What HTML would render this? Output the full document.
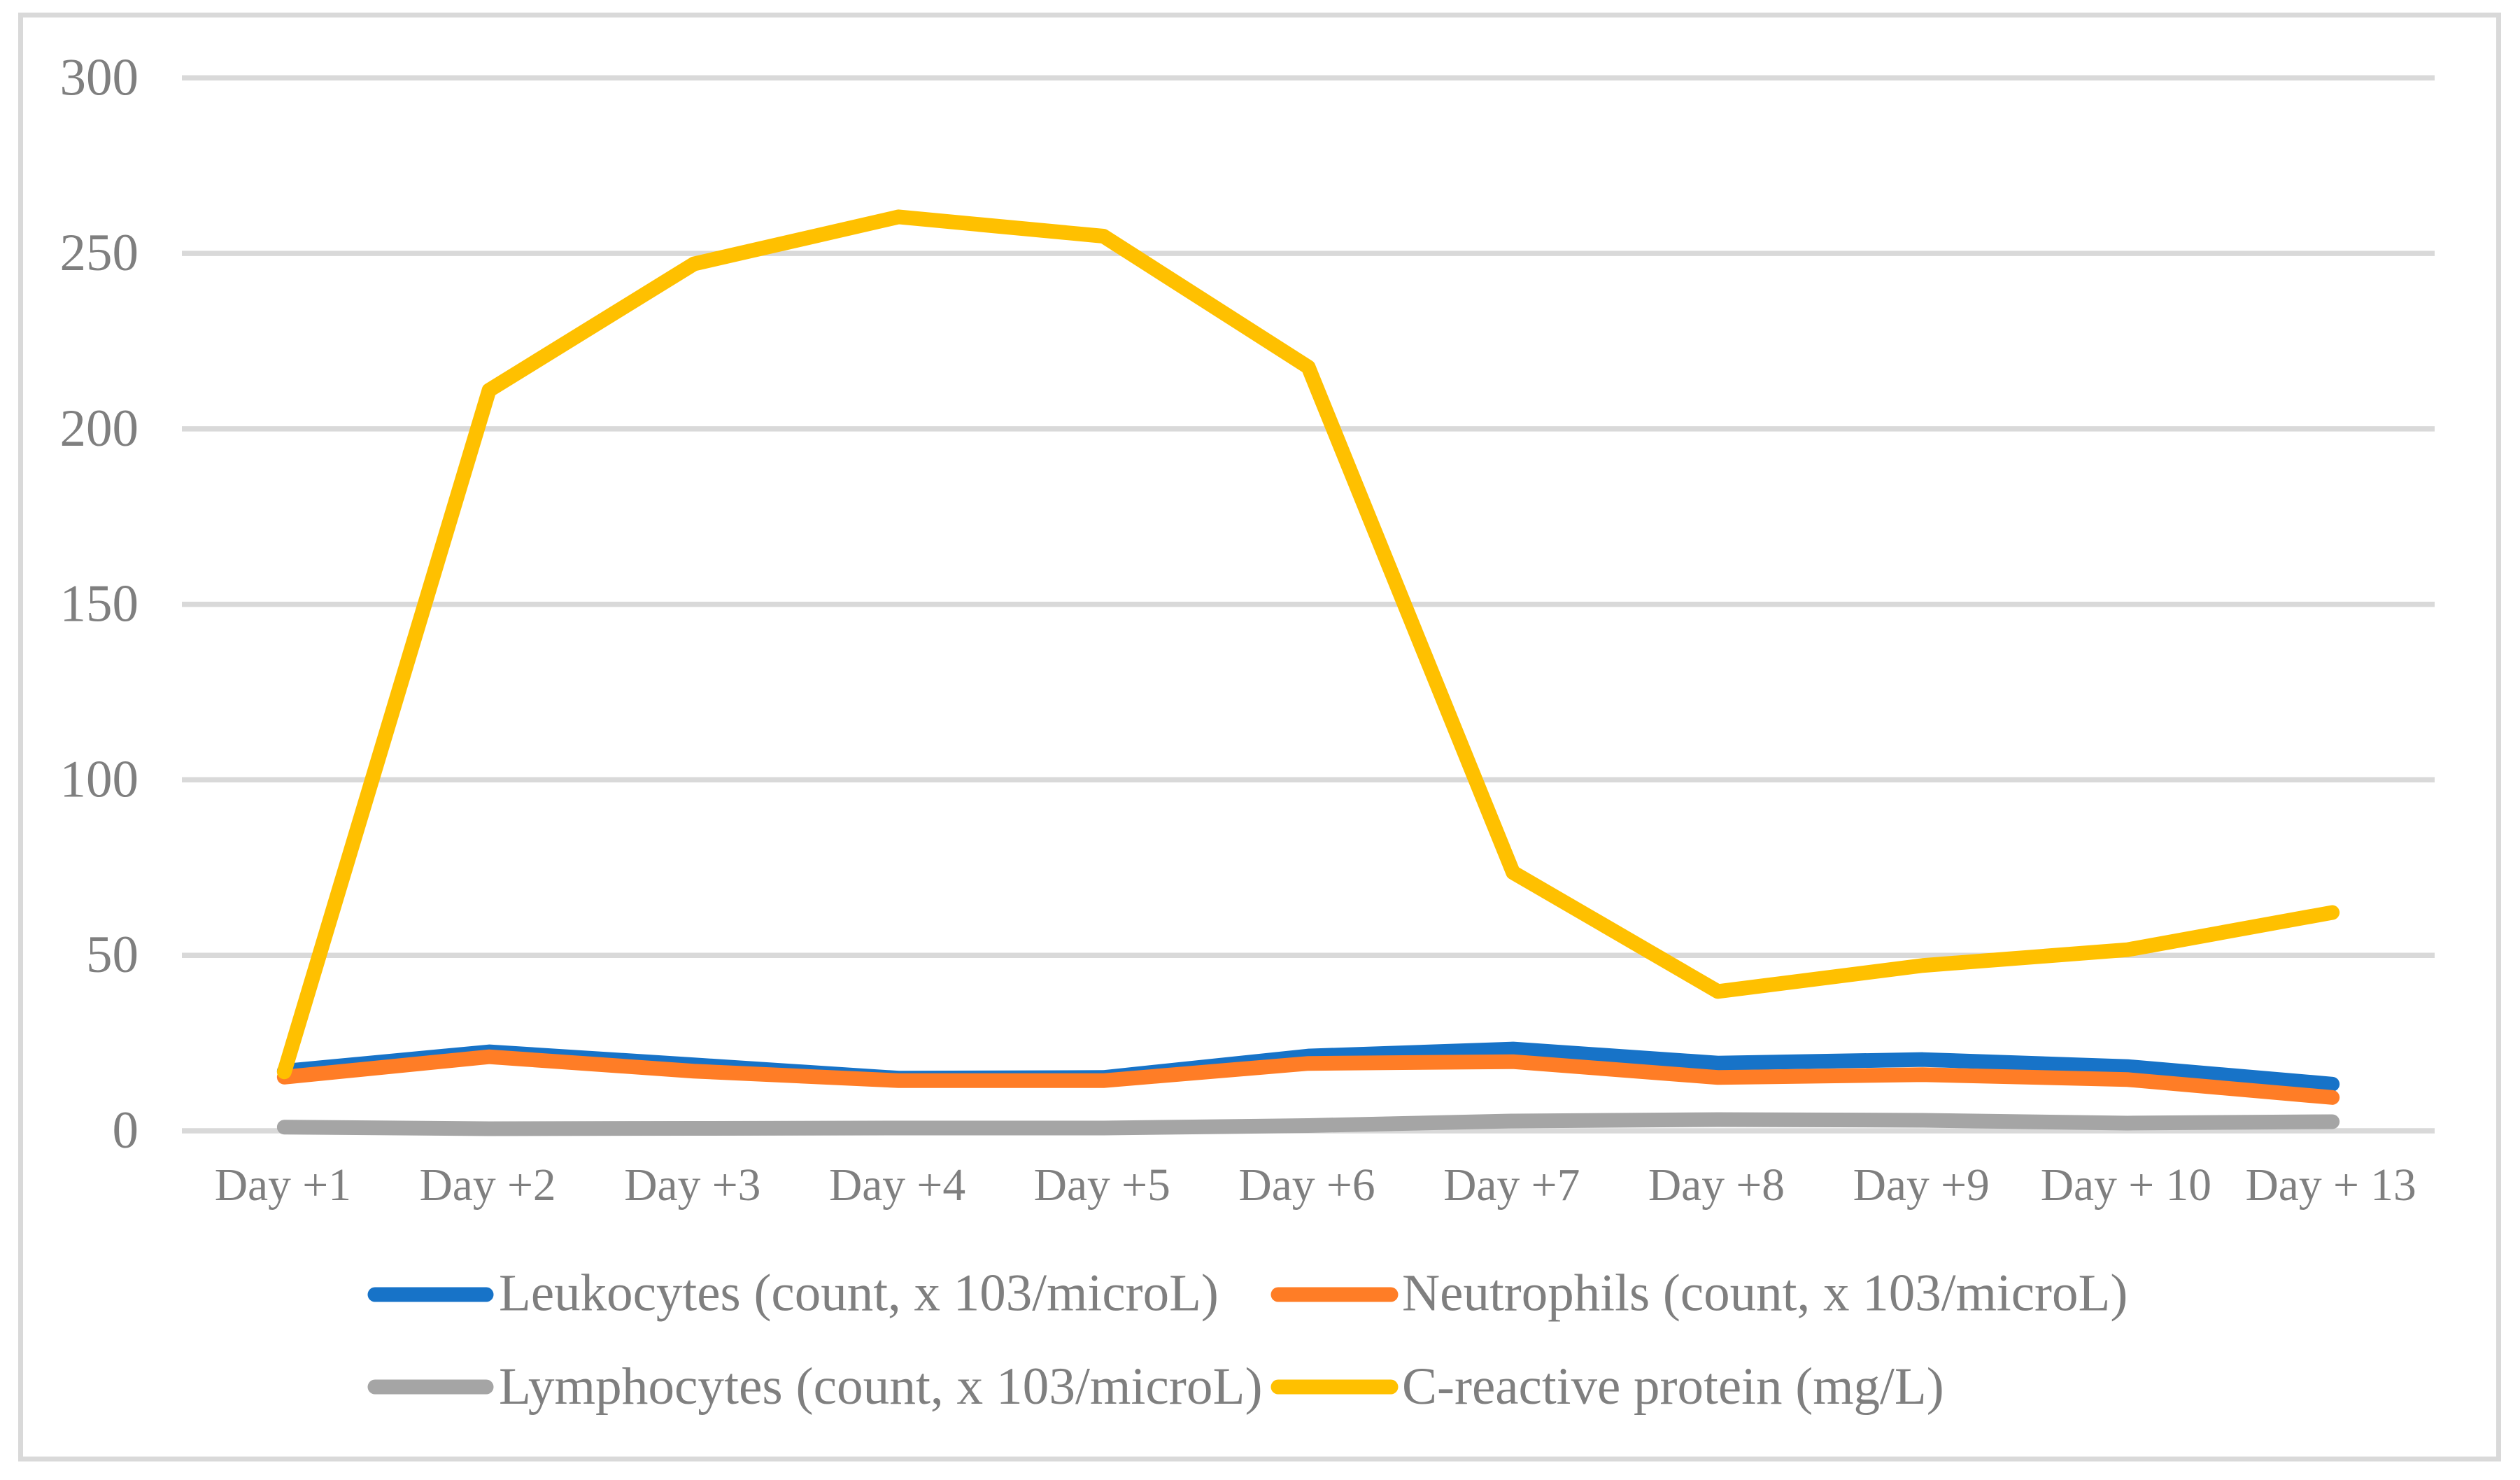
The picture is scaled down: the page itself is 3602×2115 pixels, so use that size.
<!DOCTYPE html>
<html lang="en">
<head>
<meta charset="utf-8">
<title>Laboratory trends chart</title>
<style>
html,body{margin:0;padding:0;background:#fff;}
svg{display:block;}
text{font-family:"Liberation Serif",serif;fill:#7f7f7f;}
</style>
</head>
<body>
<svg id="chart" xmlns="http://www.w3.org/2000/svg" width="3602" height="2115" viewBox="0 0 3602 2115">
<rect x="0" y="0" width="3602" height="2115" fill="#ffffff"/>
<rect x="29.5" y="21.5" width="3542" height="2063.5" fill="none" stroke="#d9d9d9" stroke-width="7"/>
</svg>
<script>
const categories = ["Day +1","Day +2","Day +3","Day +4","Day +5","Day +6","Day +7","Day +8","Day +9","Day + 10","Day + 13"];
const yTicks = [0,50,100,150,200,250,300];
const leukocytes = [17,22.5,18.8,15,15.2,21.3,23.3,19.3,20.3,18.3,13.3];
const neutrophils = [15.3,21.1,17,14.3,14.3,19.2,19.7,15.2,16,14.6,9.5];
const lymphocytes = [1.05,0.6,0.7,0.8,0.8,1.5,2.8,3.2,3,2.2,2.6];
const crp = [16.8,211,247,260.4,254.9,217.6,73.6,39.7,47.1,51.6,62.2];
const seriesNames = ["Leukocytes (count, x 103/microL)","Neutrophils (count, x 103/microL)","Lymphocytes (count, x 103/microL)","C-reactive protein (mg/L)"];

const NS = "http://www.w3.org/2000/svg";
const svg = document.getElementById("chart");
const plotLeft = 260, plotRight = 3480, y0 = 1616, y300 = 111.3;
function xScale(i){ return plotLeft + (plotRight - plotLeft) * (i + 0.5) / categories.length; }
function yScale(v){ return y0 + (y300 - y0) * v / 300; }
function make(tag, attrs){
  const el = document.createElementNS(NS, tag);
  for (const k in attrs) el.setAttribute(k, attrs[k]);
  svg.appendChild(el);
  return el;
}

yTicks.forEach(function(t){
  const line = make("line", {x1: plotLeft, x2: plotRight, y1: yScale(t), y2: yScale(t), stroke: "#d9d9d9", "stroke-width": 7.5});
  
  
  const label = make("text", {x: 198, y: yScale(t) + 24, "text-anchor": "end", "font-size": 75});
  label.textContent = t;
  
  
});

categories.forEach(function(c, i){
  const label = make("text", {x: xScale(i) - 2, y: 1715, "text-anchor": "middle", "font-size": 65.5});
  label.textContent = c;
  
  
});

function drawSeries(values, color, name){
  const pts = values.map(function(v, i){ return xScale(i) + "," + yScale(v); }).join(" ");
  const line = make("polyline", {points: pts, fill: "none", stroke: color, "stroke-width": 21, "stroke-linecap": "round", "stroke-linejoin": "round"});
  
  
}
drawSeries(leukocytes, "#1773c8", "leukocytes-line");
drawSeries(neutrophils, "#ff7d26", "neutrophils-line");
drawSeries(lymphocytes, "#a5a5a5", "lymphocytes-line");
drawSeries(crp, "#ffc000", "c-reactive-protein-line");

function drawLegend(index, color, x1, x2, lineY, textX, textY, size, name){
  const swatch = make("line", {x1: x1, x2: x2, y1: lineY, y2: lineY, stroke: color, "stroke-width": 21, "stroke-linecap": "round"});
  
  
  const label = make("text", {x: textX, y: textY, "font-size": size});
  label.textContent = seriesNames[index];
  
  
}
drawLegend(0, "#1773c8", 536, 695, 1850, 713, 1872.5, 75, "leukocytes");
drawLegend(1, "#ff7d26", 1827, 1988, 1850, 2004, 1872.5, 75, "neutrophils");
drawLegend(2, "#a5a5a5", 536, 695, 1982, 713, 2006, 75.3, "lymphocytes");
drawLegend(3, "#ffc000", 1827, 1988, 1982, 2004, 2006, 75, "c-reactive-protein");
</script>
</body>
</html>
